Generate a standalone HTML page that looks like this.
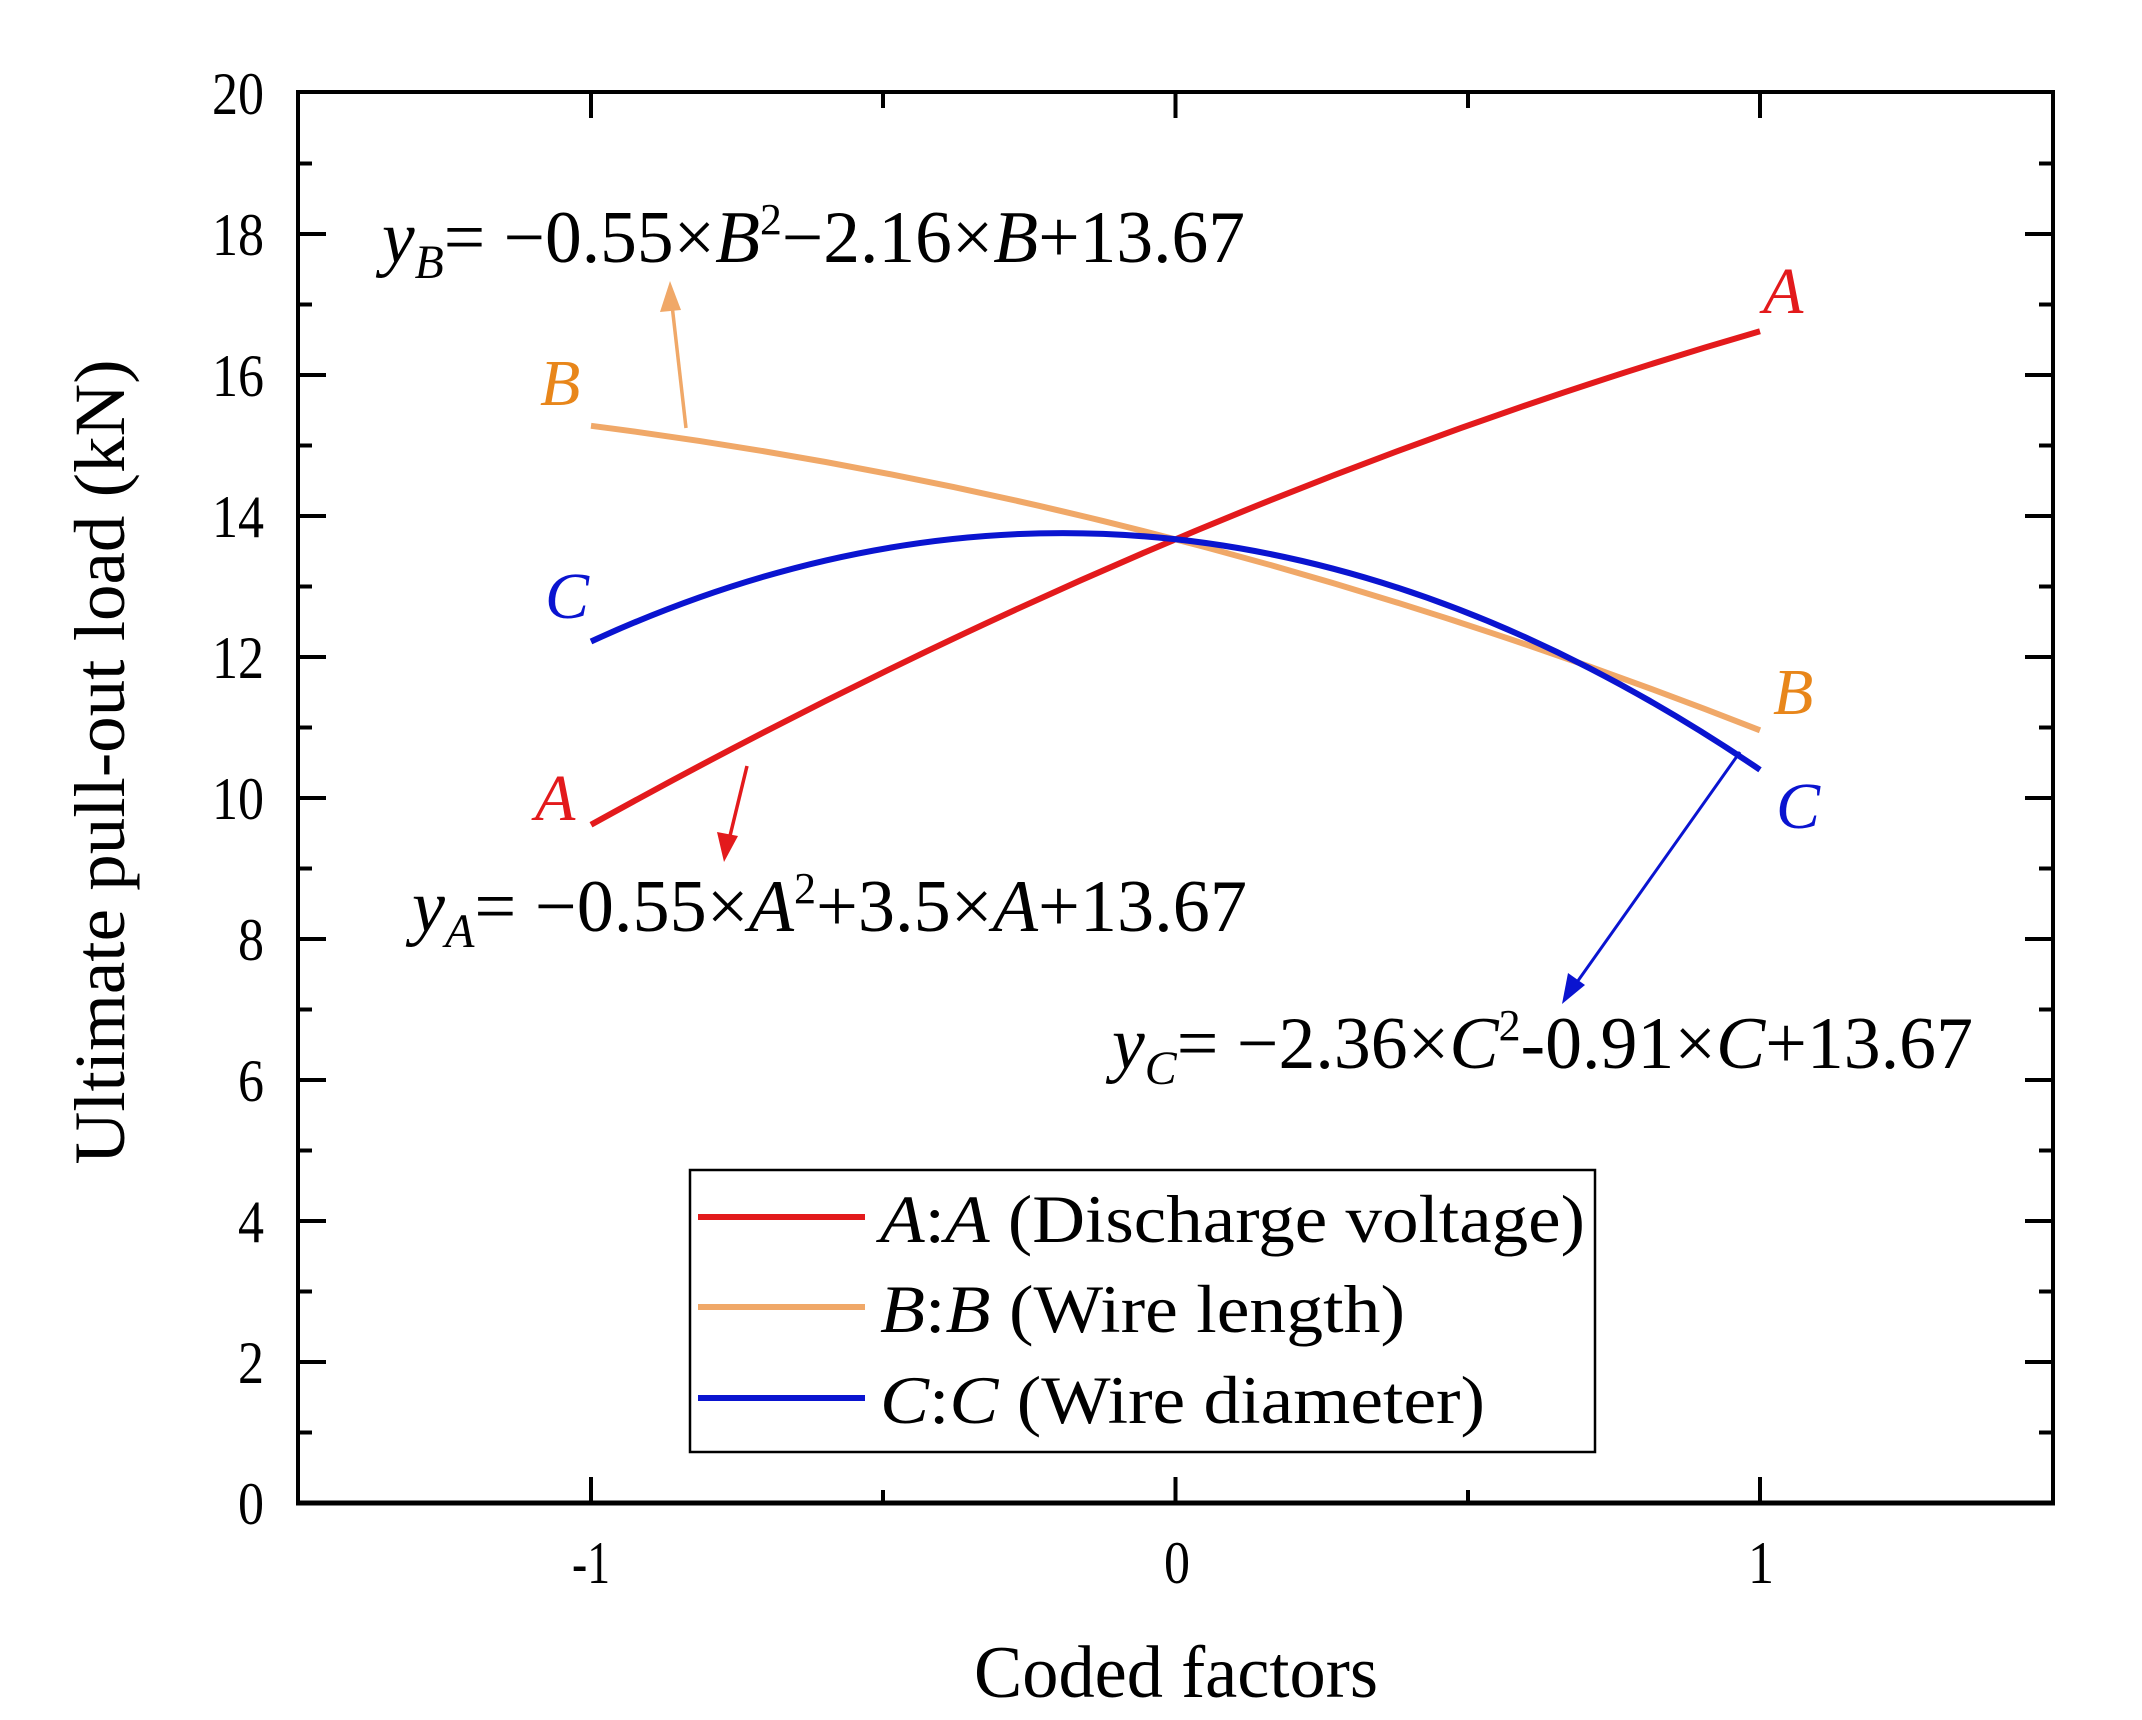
<!DOCTYPE html>
<html><head><meta charset="utf-8"><style>
html,body{margin:0;padding:0;background:#fff;}
svg{display:block;}
text{font-family:"Liberation Serif",serif;}
</style></head><body>
<svg width="2142" height="1720" viewBox="0 0 2142 1720" xmlns="http://www.w3.org/2000/svg">
<rect x="298" y="92" width="1755" height="1411" fill="none" stroke="#000" stroke-width="4"/>
<g stroke="#000" stroke-width="4">
<line x1="298" y1="1362" x2="326" y2="1362"/><line x1="298" y1="1432.5" x2="312" y2="1432.5"/>
<line x1="298" y1="1221" x2="326" y2="1221"/><line x1="298" y1="1291.5" x2="312" y2="1291.5"/>
<line x1="298" y1="1080" x2="326" y2="1080"/><line x1="298" y1="1150.5" x2="312" y2="1150.5"/>
<line x1="298" y1="939" x2="326" y2="939"/><line x1="298" y1="1009.5" x2="312" y2="1009.5"/>
<line x1="298" y1="798" x2="326" y2="798"/><line x1="298" y1="868.5" x2="312" y2="868.5"/>
<line x1="298" y1="657" x2="326" y2="657"/><line x1="298" y1="727.5" x2="312" y2="727.5"/>
<line x1="298" y1="516" x2="326" y2="516"/><line x1="298" y1="586.5" x2="312" y2="586.5"/>
<line x1="298" y1="375" x2="326" y2="375"/><line x1="298" y1="445.5" x2="312" y2="445.5"/>
<line x1="298" y1="234" x2="326" y2="234"/><line x1="298" y1="304.5" x2="312" y2="304.5"/>
<line x1="298" y1="163.5" x2="312" y2="163.5"/>
<line x1="2053" y1="1362" x2="2025" y2="1362"/><line x1="2053" y1="1432.5" x2="2039" y2="1432.5"/>
<line x1="2053" y1="1221" x2="2025" y2="1221"/><line x1="2053" y1="1291.5" x2="2039" y2="1291.5"/>
<line x1="2053" y1="1080" x2="2025" y2="1080"/><line x1="2053" y1="1150.5" x2="2039" y2="1150.5"/>
<line x1="2053" y1="939" x2="2025" y2="939"/><line x1="2053" y1="1009.5" x2="2039" y2="1009.5"/>
<line x1="2053" y1="798" x2="2025" y2="798"/><line x1="2053" y1="868.5" x2="2039" y2="868.5"/>
<line x1="2053" y1="657" x2="2025" y2="657"/><line x1="2053" y1="727.5" x2="2039" y2="727.5"/>
<line x1="2053" y1="516" x2="2025" y2="516"/><line x1="2053" y1="586.5" x2="2039" y2="586.5"/>
<line x1="2053" y1="375" x2="2025" y2="375"/><line x1="2053" y1="445.5" x2="2039" y2="445.5"/>
<line x1="2053" y1="234" x2="2025" y2="234"/><line x1="2053" y1="304.5" x2="2039" y2="304.5"/>
<line x1="2053" y1="163.5" x2="2039" y2="163.5"/>
<line x1="591" y1="1503" x2="591" y2="1477"/><line x1="1175.5" y1="1503" x2="1175.5" y2="1477"/><line x1="1760" y1="1503" x2="1760" y2="1477"/>
<line x1="883" y1="1503" x2="883" y2="1490"/><line x1="1468" y1="1503" x2="1468" y2="1490"/>
<line x1="591" y1="92" x2="591" y2="118"/><line x1="1175.5" y1="92" x2="1175.5" y2="118"/><line x1="1760" y1="92" x2="1760" y2="118"/>
<line x1="883" y1="92" x2="883" y2="108"/><line x1="1468" y1="92" x2="1468" y2="108"/>
</g>
<line x1="296" y1="1503" x2="2055" y2="1503" stroke="#000" stroke-width="5"/>
<g font-size="60" text-anchor="end" fill="#000">
<text x="264" y="1524" textLength="26" lengthAdjust="spacingAndGlyphs">0</text>
<text x="264" y="1383" textLength="26" lengthAdjust="spacingAndGlyphs">2</text>
<text x="264" y="1242" textLength="26" lengthAdjust="spacingAndGlyphs">4</text>
<text x="264" y="1101" textLength="26" lengthAdjust="spacingAndGlyphs">6</text>
<text x="264" y="960" textLength="26" lengthAdjust="spacingAndGlyphs">8</text>
<text x="264" y="819" textLength="52" lengthAdjust="spacingAndGlyphs">10</text>
<text x="264" y="678" textLength="52" lengthAdjust="spacingAndGlyphs">12</text>
<text x="264" y="537" textLength="52" lengthAdjust="spacingAndGlyphs">14</text>
<text x="264" y="396" textLength="52" lengthAdjust="spacingAndGlyphs">16</text>
<text x="264" y="255" textLength="52" lengthAdjust="spacingAndGlyphs">18</text>
<text x="264" y="114" textLength="52" lengthAdjust="spacingAndGlyphs">20</text>
</g>
<g font-size="60" text-anchor="middle" fill="#000">
<text x="591" y="1583" textLength="38" lengthAdjust="spacingAndGlyphs">-1</text>
<text x="1177" y="1583" textLength="26" lengthAdjust="spacingAndGlyphs">0</text>
<text x="1761" y="1583" textLength="26" lengthAdjust="spacingAndGlyphs">1</text>
</g>
<text x="1176" y="1697" font-size="74" text-anchor="middle" fill="#000" textLength="404" lengthAdjust="spacingAndGlyphs">Coded factors</text>
<text transform="translate(124,762) rotate(-90)" font-size="72" text-anchor="middle" fill="#000" textLength="805" lengthAdjust="spacingAndGlyphs">Ultimate pull-out load (kN)</text>
<path d="M591,824.8 Q1175.5,500.5 1760,331.3" fill="none" stroke="#e31a1c" stroke-width="6"/>
<path d="M591,425.8 Q1175.5,500.5 1760,730.3" fill="none" stroke="#f0a868" stroke-width="6"/>
<path d="M591,641.5 Q1175.5,372.9 1760,769.8" fill="none" stroke="#0a14d0" stroke-width="6"/>
<line x1="686" y1="428" x2="672" y2="305" stroke="#f0a868" stroke-width="3.5"/>
<path d="M670,281 L660,312 L681,310 z" fill="#f0a868"/>
<line x1="747" y1="766" x2="729" y2="840" stroke="#e31a1c" stroke-width="3.5"/>
<path d="M724,862 L717,832 L738,836 z" fill="#e31a1c"/>
<line x1="1740" y1="752" x2="1575" y2="985" stroke="#0a14d0" stroke-width="3"/>
<path d="M1562,1004 L1568,973 L1585,985 z" fill="#0a14d0"/>
<g font-size="66" font-style="italic">
<text x="1763" y="313" fill="#e31a1c">A</text>
<text x="535" y="820" fill="#e31a1c">A</text>
<text x="540" y="405" fill="#e8861a">B</text>
<text x="1773" y="714" fill="#e8861a">B</text>
<text x="545" y="618" fill="#0a14d0">C</text>
<text x="1776" y="828" fill="#0a14d0">C</text>
</g>
<text x="382" y="262" font-size="74" fill="#000" textLength="863" lengthAdjust="spacingAndGlyphs"><tspan font-style="italic">y</tspan><tspan font-style="italic" font-size="48" dy="16">B</tspan><tspan dy="-16">= −0.55×</tspan><tspan font-style="italic">B</tspan><tspan font-size="44" dy="-28">2</tspan><tspan dy="28">−2.16×</tspan><tspan font-style="italic">B</tspan><tspan>+13.67</tspan></text>
<text x="412" y="931" font-size="74" fill="#000" textLength="835" lengthAdjust="spacingAndGlyphs"><tspan font-style="italic">y</tspan><tspan font-style="italic" font-size="48" dy="16">A</tspan><tspan dy="-16">= −0.55×</tspan><tspan font-style="italic">A</tspan><tspan font-size="44" dy="-28">2</tspan><tspan dy="28">+3.5×</tspan><tspan font-style="italic">A</tspan><tspan>+13.67</tspan></text>
<text x="1112" y="1068" font-size="74" fill="#000" textLength="861" lengthAdjust="spacingAndGlyphs"><tspan font-style="italic">y</tspan><tspan font-style="italic" font-size="48" dy="16">C</tspan><tspan dy="-16">= −2.36×</tspan><tspan font-style="italic">C</tspan><tspan font-size="44" dy="-28">2</tspan><tspan dy="28">-0.91×</tspan><tspan font-style="italic">C</tspan><tspan>+13.67</tspan></text>
<rect x="690" y="1170" width="905" height="282" fill="#fff" stroke="#000" stroke-width="2.5"/>
<line x1="698" y1="1217" x2="865" y2="1217" stroke="#e31a1c" stroke-width="6"/>
<line x1="698" y1="1307" x2="865" y2="1307" stroke="#f0a868" stroke-width="6"/>
<line x1="698" y1="1398" x2="865" y2="1398" stroke="#0a14d0" stroke-width="6"/>
<g font-size="68" fill="#000">
<text x="880" y="1242" textLength="705" lengthAdjust="spacingAndGlyphs"><tspan font-style="italic">A</tspan>:<tspan font-style="italic">A</tspan> (Discharge voltage)</text>
<text x="880" y="1332" textLength="525" lengthAdjust="spacingAndGlyphs"><tspan font-style="italic">B</tspan>:<tspan font-style="italic">B</tspan> (Wire length)</text>
<text x="880" y="1423" textLength="605" lengthAdjust="spacingAndGlyphs"><tspan font-style="italic">C</tspan>:<tspan font-style="italic">C</tspan> (Wire diameter)</text>
</g>
</svg>
</body></html>
